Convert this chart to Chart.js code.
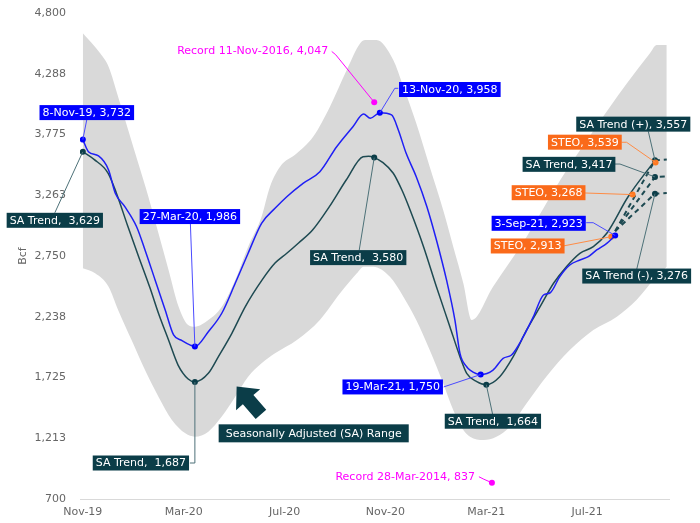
<!DOCTYPE html>
<html>
<head>
<meta charset="utf-8">
<script src="https://cdn.jsdelivr.net/npm/chart.js@4.4.1/dist/chart.umd.min.js"></script>
<style>
  body { margin: 0; background: #fff; }
  #wrap { width: 700px; height: 523px; }
</style>
</head>
<body>
<div id="wrap"><canvas id="storage" width="700" height="523"></canvas></div>
<script>
// x = weeks after 8-Nov-19 (weekly storage report)
var xTickWeeks = [0, 18, 36, 54, 72, 90];
var xTickLabels = ['Nov-19', 'Mar-20', 'Jul-20', 'Nov-20', 'Mar-21', 'Jul-21'];
var yTickValues = [700, 1212.5, 1725, 2237.5, 2750, 3262.5, 3775, 4287.5, 4800];
var yTickLabels = ['700', '1,213', '1,725', '2,238', '2,750', '3,263', '3,775', '4,288', '4,800'];

// actual storage (blue)
var storageWeeks = [0, 1, 2.8, 4.6, 5.8, 7.5, 9.6, 11.1, 12.9, 14.7, 16.2, 17.7, 19.1, 20, 22.4, 24.8, 27.2, 29.5, 31.9, 34.3, 36.4, 39.3, 42.3, 45.3, 48.2, 50.1, 51.3, 53, 55.1, 56.3, 57.7, 59.5, 61.4, 63.1, 64.9, 66.4, 67.3, 68.5, 69.1, 71, 73.2, 75, 76.5, 78.6, 80.4, 82.2, 83.4, 85.1, 86.9, 88.7, 90.2, 91.7, 93.5, 95];
var storageValues = [3732, 3630, 3594, 3476, 3279, 3166, 2997, 2801, 2548, 2295, 2084, 2036, 2000, 1986, 2111, 2267, 2520, 2773, 3026, 3152, 3250, 3363, 3461, 3672, 3841, 3948, 3912, 3958, 3940, 3813, 3616, 3419, 3166, 2885, 2548, 2210, 1929, 1816, 1788, 1750, 1788, 1887, 1915, 2069, 2238, 2421, 2440, 2575, 2674, 2716, 2744, 2801, 2857, 2923];
var storageMarked = [0, 20, 53, 71, 95];

// seasonally adjusted trend (dark)
var trendWeeks = [0, 2, 4.5, 6, 8, 10, 12, 13.5, 15.3, 17, 18.8, 20, 22.4, 24.2, 26.6, 29, 32, 34.3, 36.4, 38.5, 41, 44, 47, 50, 51, 52, 53.5, 55.4, 57, 58.4, 60.8, 63.1, 65.5, 67.3, 68.5, 70.3, 72, 74.4, 76.8, 79.2, 81.6, 84, 86.3, 88.7, 91.1, 93.5, 97.3, 102.1];
var trendValues = [3629, 3565, 3450, 3280, 3005, 2740, 2480, 2267, 2041, 1830, 1712, 1687, 1760, 1901, 2098, 2323, 2548, 2690, 2773, 2860, 2969, 3166, 3391, 3588, 3592, 3580, 3540, 3448, 3300, 3138, 2829, 2491, 2154, 1901, 1760, 1690, 1664, 1732, 1901, 2126, 2323, 2520, 2660, 2773, 2829, 2942, 3250, 3557];
var trendMarked = [0, 20, 52, 72, 102.1];

// projections (dashed)
var projWeeks = [95, 102.1, 104.2];
var projHighValues = [2960, 3557, 3565];
var projMidValues = [2960, 3417, 3421];
var projLowValues = [2960, 3276, 3282];

// STEO forecast points
var steoWeeks = [94.3, 98.1, 102.2];
var steoValues = [2913, 3268, 3539];

// record high / low
var recordWeeks = [52, 73];
var recordValues = [4047, 837];

// SA range band
var bandUpperWeeks = [0, 3.1, 4.6, 6.3, 8.1, 9.9, 11.7, 13.5, 15.3, 17.1, 18.8, 20, 22.4, 24.8, 27.2, 29.5, 31.9, 33.4, 35.2, 38.2, 41.1, 44.1, 47.1, 49.5, 50.4, 52.4, 55.4, 57.2, 59.5, 61.9, 64.3, 66.1, 67.9, 69.4, 73.2, 79.2, 85.2, 91.2, 97.1, 101.2, 102.4, 104.2];
var bandUpperValues = [4629, 4460, 4347, 4094, 3813, 3532, 3250, 2942, 2632, 2322, 2168, 2154, 2210, 2322, 2548, 2829, 3082, 3335, 3503, 3616, 3756, 4010, 4319, 4544, 4572, 4572, 4404, 4178, 3870, 3503, 3138, 2829, 2520, 2210, 2491, 2913, 3391, 3813, 4207, 4460, 4530, 4530];
var bandLowerWeeks = [0, 2.2, 4.6, 6.3, 8.7, 11.1, 13.5, 15.9, 18.3, 20, 22.4, 24.8, 27.2, 29.5, 31.9, 34.3, 38.2, 42.3, 45.9, 48.9, 50.1, 51.8, 54.8, 57.2, 59.5, 61.9, 64.3, 66.1, 67.9, 69.1, 71.5, 73.8, 76.2, 79.2, 82.7, 86.9, 91.1, 95.3, 98.8, 101.8, 104.2];
var bandLowerValues = [2646, 2604, 2491, 2295, 2041, 1788, 1563, 1367, 1254, 1226, 1268, 1395, 1563, 1732, 1845, 1929, 2041, 2210, 2435, 2604, 2660, 2660, 2575, 2407, 2210, 1957, 1676, 1451, 1282, 1226, 1198, 1226, 1310, 1507, 1732, 1957, 2126, 2238, 2379, 2548, 2660];

var BLUE = '#0000ff';
var DARK = '#0b3d48';
var ORANGE = '#fa6a1a';
var MAGENTA = '#ff00ff';

function toPoints(weeks, values) {
  return weeks.map(function(w, i) { return { x: w, y: values[i] }; });
}

// callouts: anchor in data units, box centre and leader waypoints as pixel offsets
var callouts = [
  { w: 0, v: 3732, text: '8-Nov-19, 3,732', kind: 'blue', box: [4, -27], path: [[4, -20]] },
  { w: 0, v: 3629, text: 'SA Trend,  3,629', kind: 'dark', box: [-28, 68.5], path: [[-28, 61]] },
  { w: 20, v: 1986, text: '27-Mar-20, 1,986', kind: 'blue', box: [-5, -130], path: [[-4.5, -123]] },
  { w: 20, v: 1687, text: 'SA Trend,  1,687', kind: 'dark', box: [-54, 81], path: [[0, 81], [-5, 81]] },
  { w: 53, v: 3958, text: '13-Nov-20, 3,958', kind: 'blue', box: [70, -23.3], path: [[15, -24.5], [18.5, -24.5]] },
  { w: 52, v: 3580, text: 'SA Trend,  3,580', kind: 'dark', box: [-16, 100], path: [[-15, 92.5]] },
  { w: 71, v: 1750, text: '19-Mar-21, 1,750', kind: 'blue', box: [-88, 12.4], path: [[-37, 12.4]] },
  { w: 72, v: 1664, text: 'SA Trend,  1,664', kind: 'dark', box: [6.6, 36.5], path: [[6.3, 29.5]] },
  { w: 95, v: 2923, text: '3-Sep-21, 2,923', kind: 'blue', box: [-76.5, -12.2], path: [[-22, -12.8], [-29, -12.8]] },
  { w: 94.3, v: 2913, text: 'STEO, 2,913', kind: 'orange', box: [-83.6, 9.3], path: [[-48, 9.3]] },
  { w: 98.1, v: 3268, text: 'STEO, 3,268', kind: 'orange', box: [-84, -1.9], path: [[-47.5, -1.6]] },
  { w: 102.1, v: 3417, text: 'SA Trend, 3,417', kind: 'dark', box: [-86, -12.6], path: [[-35, -12.9], [-40, -12.9]] },
  { w: 102.2, v: 3539, text: 'STEO, 3,539', kind: 'orange', box: [-70.7, -20.3], path: [[-29, -20.2], [-34, -20.2]] },
  { w: 102.1, v: 3557, text: 'SA Trend (+), 3,557', kind: 'dark', box: [-21.7, -36.2], path: [[-6.7, -29]] },
  { w: 102.1, v: 3276, text: 'SA Trend (-), 3,276', kind: 'dark', box: [-18.3, 82.4], path: [[-18.3, 75.7]] },
  { w: 52, v: 4047, text: 'Record 11-Nov-2016, 4,047', kind: 'record', textEnd: [-46, -51.5], path: [[-38.5, -47.5], [-42.5, -50.8]] },
  { w: 73, v: 837, text: 'Record 28-Mar-2014, 837', kind: 'record', textEnd: [-17, -6], path: [[-8, -3.5], [-13, -6]] }
];

// range label and arrow
var rangeLabel = { w: 41.2, v: 1254, text: 'Seasonally Adjusted (SA) Range' };
var rangeArrow = { w: 27.45, v: 1649 };

var boxColors = { blue: BLUE, dark: DARK, orange: ORANGE };
var leaderColors = { blue: '#4a4aff', dark: '#4d7178', orange: '#ff8c45', record: MAGENTA };

var calloutPlugin = {
  id: 'callouts',
  afterDatasetsDraw: function(chart) {
    var ctx = chart.ctx;
    var xs = chart.scales.x, ys = chart.scales.y;
    ctx.save();
    ctx.font = '11px "DejaVu Sans"';
    ctx.textBaseline = 'middle';

    // leaders first
    callouts.forEach(function(c) {
      var ax = xs.getPixelForValue(c.w), ay = ys.getPixelForValue(c.v);
      ctx.strokeStyle = leaderColors[c.kind];
      ctx.lineWidth = 1;
      ctx.beginPath();
      ctx.moveTo(ax, ay);
      c.path.forEach(function(p) { ctx.lineTo(ax + p[0], ay + p[1]); });
      ctx.stroke();
    });

    // boxes and texts
    callouts.forEach(function(c) {
      var ax = xs.getPixelForValue(c.w), ay = ys.getPixelForValue(c.v);
      if (c.kind === 'record') {
        ctx.fillStyle = MAGENTA;
        ctx.textAlign = 'right';
        ctx.fillText(c.text, ax + c.textEnd[0], ay + c.textEnd[1]);
        return;
      }
      var tw = ctx.measureText(c.text).width;
      var bw = tw + 6, bh = 15;
      var cx = ax + c.box[0], cy = ay + c.box[1];
      ctx.fillStyle = boxColors[c.kind];
      ctx.fillRect(cx - bw / 2, cy - bh / 2, bw, bh);
      ctx.fillStyle = '#ffffff';
      ctx.textAlign = 'center';
      ctx.fillText(c.text, cx, cy + 0.5);
    });

    // range label
    var lx = xs.getPixelForValue(rangeLabel.w), ly = ys.getPixelForValue(rangeLabel.v);
    var lw = ctx.measureText(rangeLabel.text).width + 14;
    ctx.fillStyle = DARK;
    ctx.fillRect(lx - lw / 2, ly - 9, lw, 18);
    ctx.fillStyle = '#ffffff';
    ctx.textAlign = 'center';
    ctx.fillText(rangeLabel.text, lx, ly + 0.5);

    // thick arrow pointing up-left at the band
    var tx = xs.getPixelForValue(rangeArrow.w), ty = ys.getPixelForValue(rangeArrow.v);
    var dx = 0.657, dy = 0.754; // direction tip -> tail
    var px = -dy, py = dx;
    var headLen = 17.5, headHalf = 16, shaftHalf = 7, total = 37;
    var bx = tx + dx * headLen, by = ty + dy * headLen;
    var ex = tx + dx * total, ey = ty + dy * total;
    ctx.fillStyle = DARK;
    ctx.beginPath();
    ctx.moveTo(tx, ty);
    ctx.lineTo(bx + px * headHalf, by + py * headHalf);
    ctx.lineTo(bx + px * shaftHalf, by + py * shaftHalf);
    ctx.lineTo(ex + px * shaftHalf, ey + py * shaftHalf);
    ctx.lineTo(ex - px * shaftHalf, ey - py * shaftHalf);
    ctx.lineTo(bx - px * shaftHalf, by - py * shaftHalf);
    ctx.lineTo(bx - px * headHalf, by - py * headHalf);
    ctx.closePath();
    ctx.fill();
    ctx.restore();
  }
};

Chart.defaults.font.family = '"DejaVu Sans", Verdana, sans-serif';
Chart.defaults.font.size = 11;

var storageChart = new Chart(document.getElementById('storage'), {
  type: 'line',
  data: {
    datasets: [
      {
        label: 'Storage',
        data: toPoints(storageWeeks, storageValues),
        borderColor: '#1f1ff5',
        backgroundColor: BLUE,
        borderWidth: 1.5,
        cubicInterpolationMode: 'monotone',
        pointRadius: function(c) { return c.raw && storageMarked.indexOf(c.raw.x) >= 0 ? 3 : 0; },
        pointBorderWidth: 0,
        fill: false
      },
      {
        label: 'Record',
        data: toPoints(recordWeeks, recordValues),
        showLine: false,
        backgroundColor: MAGENTA,
        borderColor: MAGENTA,
        pointRadius: 3,
        pointBorderWidth: 0
      },
      {
        label: 'STEO',
        data: toPoints(steoWeeks, steoValues),
        showLine: false,
        backgroundColor: '#ff7a22',
        borderColor: '#ff7a22',
        pointRadius: 3,
        pointBorderWidth: 0
      },
      {
        label: 'SA Trend',
        data: toPoints(trendWeeks, trendValues),
        borderColor: '#1e4a52',
        backgroundColor: DARK,
        borderWidth: 1.5,
        cubicInterpolationMode: 'monotone',
        pointRadius: function(c) { return c.raw && trendMarked.indexOf(c.raw.x) >= 0 ? 3 : 0; },
        pointBorderWidth: 0,
        fill: false
      },
      {
        label: 'SA Trend (+)',
        data: toPoints(projWeeks, projHighValues),
        borderColor: '#1e4a52',
        borderWidth: 2,
        borderDash: [5, 4],
        pointRadius: 0,
        fill: false
      },
      {
        label: 'SA Trend proj',
        data: toPoints(projWeeks, projMidValues),
        borderColor: '#1e4a52',
        backgroundColor: DARK,
        borderWidth: 2,
        borderDash: [5, 4],
        pointRadius: function(c) { return c.dataIndex === 1 ? 3 : 0; },
        pointBorderWidth: 0,
        fill: false
      },
      {
        label: 'SA Trend (-)',
        data: toPoints(projWeeks, projLowValues),
        borderColor: '#1e4a52',
        backgroundColor: DARK,
        borderWidth: 2,
        borderDash: [5, 4],
        pointRadius: function(c) { return c.dataIndex === 1 ? 3 : 0; },
        pointBorderWidth: 0,
        fill: false
      },
      {
        label: 'SA Range upper',
        data: toPoints(bandUpperWeeks, bandUpperValues),
        borderWidth: 0,
        borderColor: 'rgba(0,0,0,0)',
        backgroundColor: '#d9d9d9',
        cubicInterpolationMode: 'monotone',
        pointRadius: 0,
        fill: '+1'
      },
      {
        label: 'SA Range lower',
        data: toPoints(bandLowerWeeks, bandLowerValues),
        borderWidth: 0,
        borderColor: 'rgba(0,0,0,0)',
        cubicInterpolationMode: 'monotone',
        pointRadius: 0,
        fill: false
      }
    ]
  },
  options: {
    responsive: false,
    animation: false,
    layout: { padding: { left: 0, right: 31, top: 13, bottom: 0 } },
    plugins: {
      legend: { display: false },
      tooltip: { enabled: false },
      title: { display: false }
    },
    scales: {
      x: {
        type: 'linear',
        min: -0.5,
        max: 104.6,
        afterFit: function(s) { s.height = 24; },
        afterBuildTicks: function(s) { s.ticks = xTickWeeks.map(function(v) { return { value: v }; }); },
        ticks: {
          color: '#666666',
          padding: 7,
          maxRotation: 0,
          autoSkip: false,
          callback: function(v) { var i = xTickWeeks.indexOf(v); return i >= 0 ? xTickLabels[i] : ''; }
        },
        grid: { display: false, drawTicks: false },
        border: { display: true, color: '#d9d9d9', width: 1 }
      },
      y: {
        min: 700,
        max: 4800,
        afterFit: function(s) { s.width = 80; },
        afterBuildTicks: function(s) { s.ticks = yTickValues.map(function(v) { return { value: v }; }); },
        ticks: {
          color: '#666666',
          padding: 0,
          autoSkip: false,
          callback: function(v) { var i = yTickValues.indexOf(v); return i >= 0 ? yTickLabels[i] : ''; }
        },
        grid: { display: false, drawTicks: true, tickLength: 14 },
        border: { display: false },
        title: { display: true, text: 'Bcf', color: '#666666', padding: { top: 17, bottom: 0 } }
      }
    }
  },
  plugins: [calloutPlugin]
});
</script>
</body>
</html>
